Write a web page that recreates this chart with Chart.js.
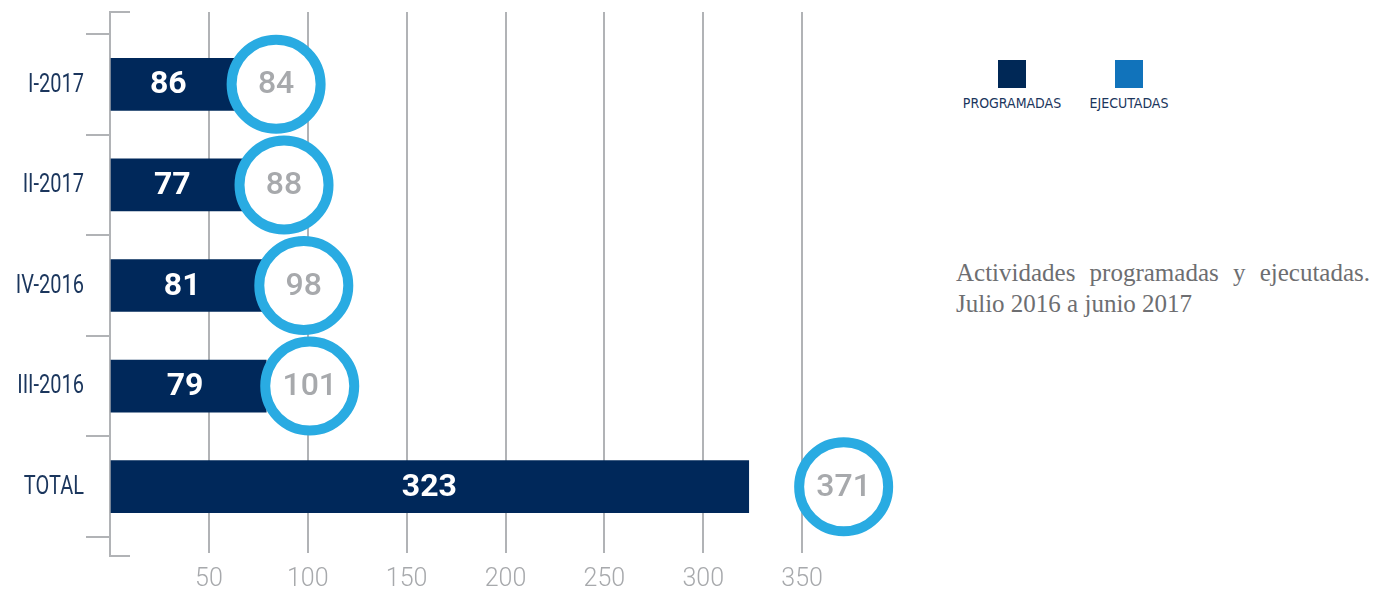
<!DOCTYPE html>
<html>
<head>
<meta charset="utf-8">
<script src="https://cdn.jsdelivr.net/npm/chart.js@4"></script>
<style>
  body { margin:0; background:#fff; width:1387px; height:594px; position:relative; overflow:hidden; }
  #wrap { position:absolute; left:0; top:0; width:930px; height:594px; }
  .key { position:absolute; top:60px; width:120px; text-align:center; font-size:14px; line-height:15px;
         font-family:"DejaVu Sans Condensed",sans-serif; color:#1b365d; }
  .key span { display:block; width:28px; height:28px; margin:0 auto 8px; }
  .caption { position:absolute; left:956px; top:257px; width:414px; font-family:"Liberation Serif",serif;
             font-size:25px; line-height:31px; color:#6d6e71; }
  .caption .l1 { text-align:justify; text-align-last:justify; }
</style>
</head>
<body>
<div id="wrap"><canvas id="actividades"></canvas></div>
<div class="key" style="left:952px"><span style="background:#002856"></span>PROGRAMADAS</div>
<div class="key" style="left:1069px"><span style="background:#1173bb"></span>EJECUTADAS</div>
<div class="caption">
  <div class="l1">Actividades programadas y ejecutadas.</div>
  <div>Julio 2016 a junio 2017</div>
</div>
<script>
const periods = ['I-2017', 'II-2017', 'IV-2016', 'III-2016', 'TOTAL'];
const programadas = [86, 77, 81, 79, 323];
const ejecutadas = [84, 88, 98, 101, 371];
const xTicks = [50, 100, 150, 200, 250, 300, 350];

const gridGrey = '#b1b3b6';
const ring = 49.5; // outer radius of the circles

// extends grid lines and the left axis above/below the plot, like the original
const frame = {
  id: 'frame',
  beforeDatasetsDraw(chart) {
    const {ctx, chartArea, scales: {x}} = chart;
    ctx.save();
    ctx.strokeStyle = gridGrey;
    ctx.lineWidth = 2;
    ctx.beginPath();
    xTicks.forEach(v => {
      const px = Math.round(x.getPixelForValue(v));
      ctx.moveTo(px, 12);
      ctx.lineTo(px, chartArea.top);
    });
    const l = chartArea.left;
    ctx.moveTo(l + 20, 12); ctx.lineTo(l, 12); ctx.lineTo(l, 556); ctx.lineTo(l + 20, 556);
    ctx.stroke();
    ctx.restore();
  },
  // category names, squeezed to look like the condensed face of the original
  afterDraw(chart) {
    const {ctx, scales: {y}} = chart;
    ctx.save();
    ctx.fillStyle = '#1b365d';
    ctx.font = '25px Roboto';
    ctx.textAlign = 'right';
    ctx.textBaseline = 'middle';
    periods.forEach((p, i) => {
      ctx.save();
      ctx.translate(y.left + y.width - 26, y.getPixelForTick(i) + 1);
      ctx.scale(0.8, 1);
      ctx.fillText(p, 0, 0);
      ctx.restore();
    });
    ctx.restore();
  }
};

const valueLabels = {
  id: 'valueLabels',
  afterDatasetDraw(chart, args) {
    const {ctx, chartArea} = chart;
    ctx.save();
    ctx.textAlign = 'center';
    ctx.textBaseline = 'middle';
    if (args.index === 0) {
      const circles = chart.getDatasetMeta(1).data;
      ctx.fillStyle = '#ffffff';
      ctx.font = 'bold 32px Roboto';
      args.meta.data.forEach((bar, i) => {
        const end = Math.min(bar.x, circles[i].x - ring);
        ctx.fillText(programadas[i], (chartArea.left + end) / 2, bar.y + 1);
      });
    } else {
      ctx.fillStyle = '#a7a9ac';
      ctx.font = '500 32px Roboto';
      args.meta.data.forEach((pt, i) => {
        ctx.fillText(ejecutadas[i], pt.x, pt.y + 1);
      });
    }
    ctx.restore();
  }
};

new Chart(document.getElementById('actividades'), {
  type: 'bar',
  data: {
    labels: periods,
    datasets: [{
      label: 'PROGRAMADAS',
      data: programadas,
      indexAxis: 'y',
      backgroundColor: '#00285a',
      barThickness: 52,
      order: 1
    }, {
      type: 'line',
      label: 'EJECUTADAS',
      data: ejecutadas,
      indexAxis: 'y',
      showLine: false,
      pointRadius: ring - 5,
      pointHoverRadius: ring - 5,
      pointBorderWidth: 10,
      pointHoverBorderWidth: 10,
      pointBackgroundColor: '#ffffff',
      pointBorderColor: '#29abe2',
      clip: false,
      order: 0
    }]
  },
  plugins: [frame, valueLabels],
  options: {
    indexAxis: 'y',
    responsive: true,
    maintainAspectRatio: false,
    animation: false,
    layout: { autoPadding: false, padding: { top: 34, right: 29, bottom: 0, left: 0 } },
    scales: {
      x: {
        type: 'linear',
        min: 0,
        max: 400,
        afterFit: s => { s.height = 57; },
        border: { display: false },
        grid: {
          lineWidth: 2,
          tickLength: 16,
          color: c => xTicks.includes(c.tick && c.tick.value) ? gridGrey : 'rgba(0,0,0,0)'
        },
        ticks: {
          stepSize: 50,
          padding: 12,
          color: '#a7a9ac',
          font: { family: 'Roboto', size: 25, weight: '300' },
          callback: v => xTicks.includes(v) ? v : ''
        }
      },
      y: {
        type: 'category',
        afterFit: s => { s.width = 110; },
        border: { color: gridGrey, width: 2 },
        grid: { drawOnChartArea: false, offset: true, tickLength: 24, lineWidth: 2, color: gridGrey },
        ticks: { display: false }
      }
    },
    plugins: {
      legend: { display: false },
      tooltip: { enabled: false }
    }
  }
});
</script>
</body>
</html>
